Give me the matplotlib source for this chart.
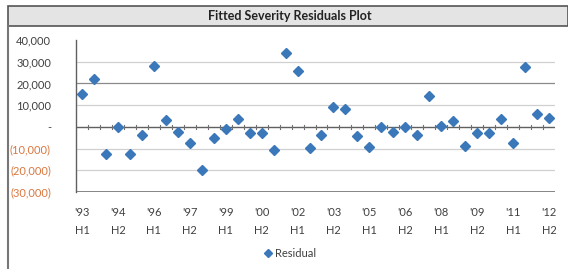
import matplotlib.pyplot as plt
import matplotlib.patches as patches
import numpy as np

plt.rcParams['font.family'] = ['Lato', 'DejaVu Sans']

# half-year periods '93 H1 .. '12 H2
years = [str(y)[2:] for y in range(1993, 2013)]
periods = ["'%s\nH%d" % (y, h) for y in years for h in (1, 2)]
residuals = [15000, 22000, -12500, 0, -12500, -3900, 28000, 3100, -2300, -7300,
             -19800, -5000, -1200, 3800, -3000, -2600, -10600, 34200, 25900, -9600,
             -3800, 9100, 8100, -4200, -9100, 0, -2300, 0, -3800, 14000,
             600, 2600, -8800, -2600, -3000, 3400, -7600, 27400, 6100, 4300]
yticks = [40000, 30000, 20000, 10000, 0, -10000, -20000, -30000]

def fmt(v):
    if v == 0:
        return '-'
    if v < 0:
        return '(%s)' % format(-v, ',')
    return format(v, ',')

fig = plt.figure(figsize=(5.68, 2.69), dpi=100)
ax = fig.add_axes([76/568, 1-192/269, 479/568, 152/269])

x = np.arange(len(residuals))
ax.plot(x, residuals, linestyle='none', marker='D', markersize=4.8,
        color='#3B78BA', label='Residual', zorder=3)

ax.set_xlim(-0.5, len(residuals)-0.5)
ax.set_ylim(-30000, 40000)
ax.set_yticks(yticks)
ax.set_yticklabels([fmt(v) for v in yticks], fontsize=8)
for lab, v in zip(ax.get_yticklabels(), yticks):
    lab.set_color('#D9773F' if v < 0 else '#404040')
ax.tick_params(axis='y', length=0, pad=18)

for v in yticks[1:-1]:
    if v == 0:
        continue
    c = '#8A8A8A' if v == 20000 else '#D0D0D0'
    ax.axhline(v, color=c, lw=0.9, zorder=1)
ax.axhline(-30000, color='#707070', lw=1.2, zorder=1)
ax.axhline(0, color='#606060', lw=1.0, zorder=2)
# tick marks on zero line
for b in np.arange(0.5, len(residuals)-1, 1):
    ax.plot([b, b], [-800, 800], color='#707070', lw=0.8, zorder=2)

ax.set_xticks(x[::3])
ax.set_xticklabels([periods[i] for i in x[::3]], fontsize=8, color='#404040',
                   linespacing=1.75)
ax.tick_params(axis='x', length=0, pad=11)

for s in ['top', 'right', 'bottom']:
    ax.spines[s].set_visible(False)
ax.spines['left'].set_color('#606060')
ax.spines['left'].set_linewidth(1.0)

leg = ax.legend(loc='upper center', bbox_to_anchor=(0.445, -0.30), frameon=False,
                fontsize=8, handletextpad=0.1, handlelength=1.0, markerscale=0.8)
for t in leg.get_texts():
    t.set_color('#404040')

# title bar
bar = patches.Rectangle((8/568, 1-26/269), 1-8/568, 20/269, transform=fig.transFigure,
                        facecolor='#E4E4E4', edgecolor='#555555', lw=1.2)
fig.patches.append(bar)
fig.text(290/568, 1-16/269, 'Fitted Severity Residuals Plot', ha='center', va='center',
         fontsize=9, fontweight='bold', color='#222222')
# left border of the chart
fig.add_artist(plt.Line2D([8/568, 8/568], [0, 1-26/269], transform=fig.transFigure,
                          color='#777777', lw=1.5))

fig.savefig('out.png', dpi=100)
